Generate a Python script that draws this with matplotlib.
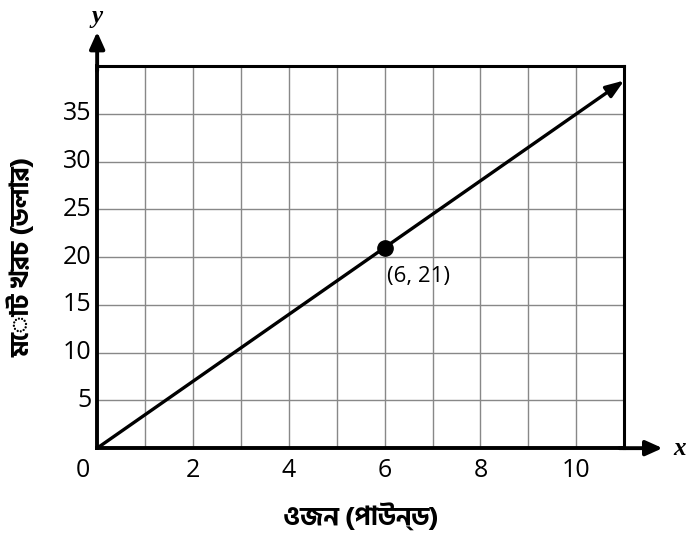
import matplotlib
matplotlib.use('Agg')
import matplotlib.pyplot as plt
import numpy as np

# data
x_line = [0, 11]
y_line = [0, 38.5]
point = (6, 21)
point_label = '(6, 21)'
x_ticks = [2, 4, 6, 8, 10]
y_ticks = [5, 10, 15, 20, 25, 30, 35]
x_label = 'ওজন (পাউন্ড)'
y_label = 'মোট খরচ (ডলার)'

plt.rcParams['font.family'] = ['Open Sans', 'Noto Sans Bengali', 'DejaVu Sans']
bn_fonts = ['Hind Siliguri', 'Noto Sans Bengali', 'Open Sans']

fig = plt.figure(figsize=(6.89, 5.38), dpi=100)
ax = fig.add_axes([0.141, 0.167, 0.765, 0.710])

ax.set_xlim(0, 11)
ax.set_ylim(0, 40)

# grid
ax.set_xticks(np.arange(0, 12, 1))
ax.set_yticks(np.arange(0, 45, 5))
ax.grid(True, color='#888888', linewidth=1.0)
ax.tick_params(length=0, labelbottom=False, labelleft=False)

for side in ['top', 'right']:
    ax.spines[side].set_linewidth(2.2)
    ax.spines[side].set_color('black')
for side in ['left', 'bottom']:
    ax.spines[side].set_linewidth(2.8)
    ax.spines[side].set_color('black')

# axis arrows
ax.annotate('', xy=(11.8, 0), xytext=(10.9, 0),
            arrowprops=dict(arrowstyle='-|>,head_length=1.0,head_width=0.45',
                            color='black', lw=2.8, shrinkA=0, shrinkB=0),
            annotation_clip=False)
ax.annotate('', xy=(0, 43.6), xytext=(0, 39.5),
            arrowprops=dict(arrowstyle='-|>,head_length=1.0,head_width=0.45',
                            color='black', lw=2.8, shrinkA=0, shrinkB=0),
            annotation_clip=False)
ax.text(12.15, 0, 'x', fontsize=18, family='Liberation Serif', style='italic',
        weight='bold', ha='center', va='center', clip_on=False)
ax.text(0, 45.2, 'y', fontsize=18, family='Liberation Serif', style='italic',
        weight='bold', ha='center', va='center', clip_on=False)

# line with arrow
ax.annotate('', xy=(x_line[1], y_line[1]), xytext=(x_line[0], y_line[0]),
            arrowprops=dict(arrowstyle='-|>,head_length=1.1,head_width=0.4',
                            color='black', lw=2.4, shrinkA=0, shrinkB=0),
            annotation_clip=False)

ax.plot(point[0], point[1], 'o', color='black', markersize=11, zorder=5)
ax.text(point[0] + 0.05, point[1] - 3.0, point_label, fontsize=16,
        ha='left', va='center')

# tick labels
for t in x_ticks:
    ax.text(t, -1.0, str(t), fontsize=18, ha='center', va='top', clip_on=False)
for t in y_ticks:
    ax.text(-0.12, t, str(t), fontsize=18, ha='right', va='center', clip_on=False)
ax.text(-0.3, -1.0, '0', fontsize=18, ha='center', va='top', clip_on=False)

ax.text(5.5, -7.1, x_label, fontsize=19, weight='bold', family=bn_fonts,
        ha='center', va='center', clip_on=False)
ax.text(-1.6, 20, y_label, fontsize=19, weight='bold', family=bn_fonts,
        ha='center', va='center', rotation=90, clip_on=False)

fig.savefig('out.png', dpi=100)
